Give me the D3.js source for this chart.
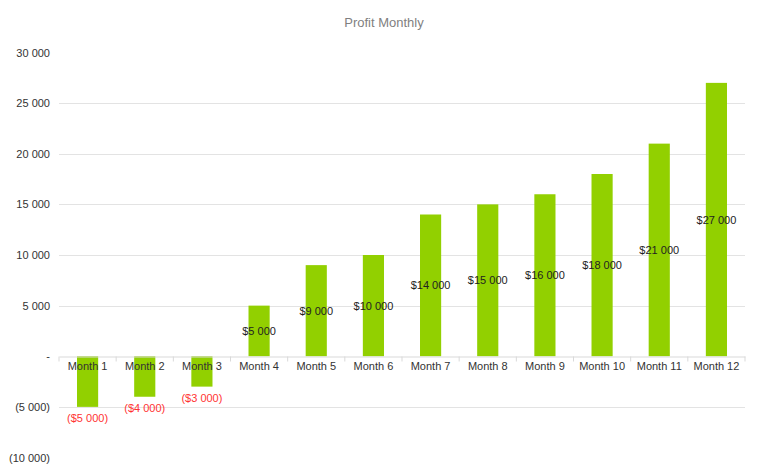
<!DOCTYPE html>
<html><head><meta charset="utf-8">
<script src="https://cdn.jsdelivr.net/npm/d3@7"></script>
<style>
body{margin:0;background:#fff;}
text{font-family:"Liberation Sans Narrow","Arial Narrow","Liberation Sans",Arial,sans-serif;}
</style>
</head><body>
<svg id="c" width="768" height="469"></svg>
<script>
const categories = ["Month 1","Month 2","Month 3","Month 4","Month 5","Month 6","Month 7","Month 8","Month 9","Month 10","Month 11","Month 12"];
const profit = [-5000,-4000,-3000,5000,9000,10000,14000,15000,16000,18000,21000,27000];
const yTicks = [-10000,-5000,0,5000,10000,15000,20000,25000,30000];

const svg = d3.select("#c");
const left = 59, right = 745;
const x = d3.scaleBand().domain(categories).range([left, right]).paddingInner(0.63).paddingOuter(0.315);
const y = d3.scaleLinear().domain([-10000, 30000]).range([457.5, 52.5]);

const fmtNum = v => {
  if (v === 0) return "-";
  const s = d3.format(",")(Math.abs(v)).replace(/,/g, " ");
  return v < 0 ? "(" + s + ")" : s;
};
const fmtMoney = v => {
  const s = "$" + d3.format(",")(Math.abs(v)).replace(/,/g, " ");
  return v < 0 ? "(" + s + ")" : s;
};

svg.append("text").attr("x", 384).attr("y", 27).attr("text-anchor", "middle")
  .attr("font-size", 13).attr("fill", "#7f7f7f")
  .style("font-family", "'Liberation Sans Narrow','Arial Narrow',Arial,sans-serif")
  .text("Profit Monthly");

// gridlines
svg.append("g").selectAll("line").data(yTicks.filter(t => t !== 0 && t !== 30000 && t !== -10000))
  .join("line")
  .attr("x1", left).attr("x2", right)
  .attr("y1", d => Math.round(y(d)) + 0.5).attr("y2", d => Math.round(y(d)) + 0.5)
  .attr("stroke", "#e3e3e3").attr("stroke-width", 1);

// y axis labels
const yAxis = d3.axisLeft(y).tickValues(yTicks).tickFormat(fmtNum).tickSize(0).tickPadding(0);
const ya = svg.append("g").attr("transform", `translate(50,0)`).call(yAxis);
ya.select(".domain").remove();
ya.selectAll("text").attr("font-size", 11).attr("fill", "#333")
  .style("font-family", "'Liberation Sans Narrow','Arial Narrow',Arial,sans-serif");

// bars
svg.append("g").selectAll("rect").data(profit).join("rect")
  .attr("x", (d, i) => x(categories[i]))
  .attr("width", x.bandwidth())
  .attr("y", d => y(Math.max(0, d)))
  .attr("height", d => Math.abs(y(d) - y(0)))
  .attr("fill", "#92d000");

// x axis
const xAxis = d3.axisBottom(x).tickSize(0).tickPadding(6);
const xa = svg.append("g").attr("transform", `translate(0,${Math.round(y(0)) + 0.5})`).call(xAxis);
xa.select(".domain").attr("stroke", "#d9d9d9");
xa.selectAll("text").attr("font-size", 11).attr("fill", "#333")
  .style("font-family", "'Liberation Sans Narrow','Arial Narrow',Arial,sans-serif");
// category boundary ticks
xa.append("g").selectAll("line").data(d3.range(categories.length + 1)).join("line")
  .attr("x1", i => left + i * x.step()).attr("x2", i => left + i * x.step())
  .attr("y1", 0).attr("y2", 5).attr("stroke", "#d9d9d9");

// data labels
svg.append("g").selectAll("text").data(profit).join("text")
  .attr("x", (d, i) => x(categories[i]) + x.bandwidth() / 2)
  .attr("y", d => d >= 0 ? (y(d) + y(0)) / 2 + 4 : y(d) + 15)
  .attr("text-anchor", "middle")
  .attr("font-size", 11)
  .attr("fill", d => d < 0 ? "#ff3333" : "#222")
  .style("font-family", "'Liberation Sans Narrow','Arial Narrow',Arial,sans-serif")
  .text(fmtMoney);
</script>
</body></html>
